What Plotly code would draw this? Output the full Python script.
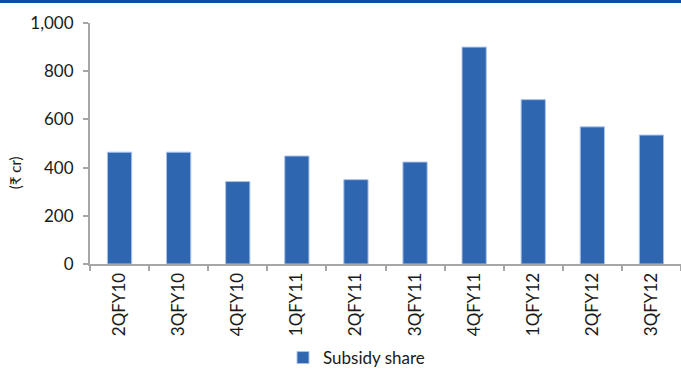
import plotly.graph_objects as go

quarters = ["2QFY10", "3QFY10", "4QFY10", "1QFY11", "2QFY11",
            "3QFY11", "4QFY11", "1QFY12", "2QFY12", "3QFY12"]
subsidy_share = [464, 464, 342, 448, 350, 423, 900, 682, 569, 535]
y_ticks = [0, 200, 400, 600, 800, 1000]
y_tick_labels = ["0", "200", "400", "600", "800", "1,000"]

W, H = 681, 376
ML, MR, MT, MB = 90, 0, 23, 106
plot_w = W - ML - MR
plot_h = H - MT - MB

fig = go.Figure()
fig.add_trace(go.Bar(
    x=quarters, y=subsidy_share, name="Subsidy share",
    marker=dict(color="#2E66B0", line=dict(color="#A9C2E8", width=1)),
))

axis_grey = "#A6A6A6"
fig.update_layout(
    width=W, height=H,
    margin=dict(l=ML, r=MR, t=MT, b=MB),
    paper_bgcolor="white", plot_bgcolor="white",
    font=dict(family="Lato, Noto Sans, sans-serif", size=17, color="#1a1a1a"),
    bargap=0.59,
    showlegend=True,
    legend=dict(orientation="h", x=(283 - ML) / plot_w, xanchor="left",
                y=-(367 - (H - MB)) / plot_h, yanchor="middle",
                font=dict(size=17), itemwidth=30),
    xaxis=dict(type="category", tickangle=-90, showline=True, linecolor=axis_grey,
               linewidth=2, ticks="outside", tickson="boundaries", ticklen=5,
               tickcolor=axis_grey, tickwidth=2, showgrid=False,
               tickfont=dict(size=17)),
    yaxis=dict(range=[0, 1000], tickvals=y_ticks, ticktext=y_tick_labels,
               showline=True, linecolor=axis_grey, linewidth=2, ticks="outside",
               ticklen=5, tickcolor=axis_grey, tickwidth=2, showgrid=False,
               zeroline=False, tickfont=dict(size=17), ticklabelstandoff=6),
    annotations=[dict(text="(₹ cr)", textangle=-90, showarrow=False,
                      xref="paper", yref="paper",
                      x=-(ML - 15) / plot_w, y=(H - MB - 177) / plot_h,
                      xanchor="center", yanchor="middle",
                      font=dict(size=15))],
    shapes=[dict(type="line", xref="paper", yref="paper", layer="above",
                 x0=-ML / plot_w, x1=1.0,
                 y0=1 + (MT - 1) / plot_h, y1=1 + (MT - 1) / plot_h,
                 line=dict(color="#0A4EA0", width=3))],
)

fig.write_html("out.html")
